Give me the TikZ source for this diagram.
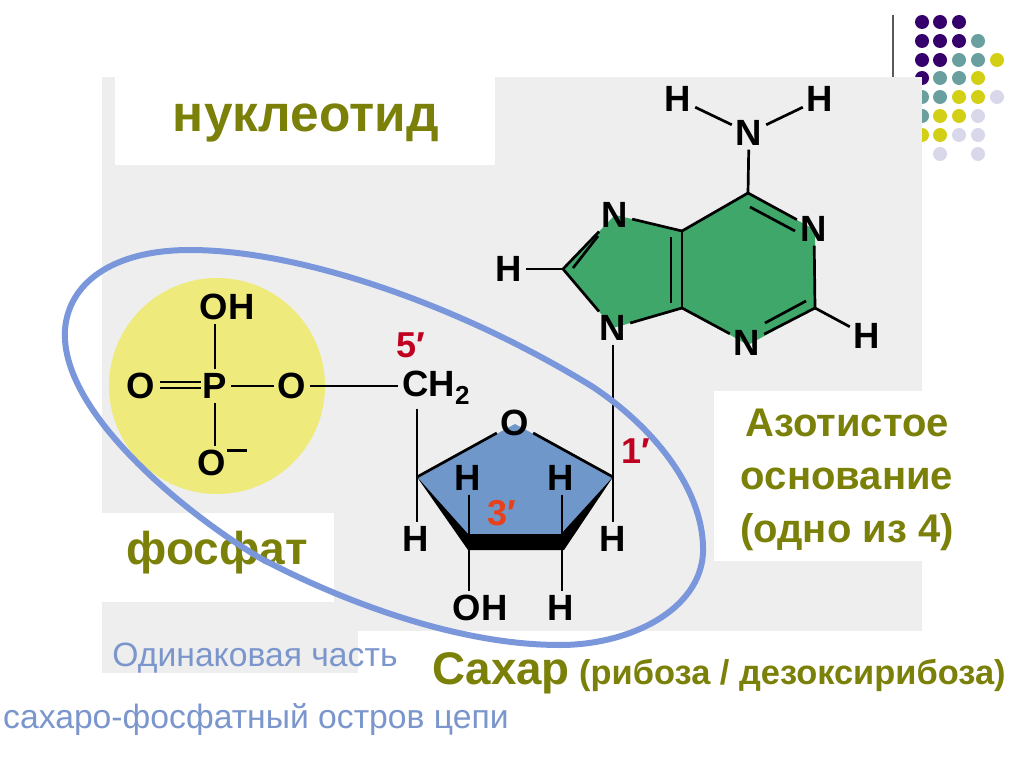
\documentclass[tikz,border=0pt]{standalone}
\usepackage{fontspec}
\setmainfont{Liberation Sans}
\definecolor{bggray}{HTML}{EEEEEE}
\definecolor{olive}{HTML}{7A8008}
\definecolor{ringblue}{HTML}{7B97DC}
\definecolor{labelblue}{HTML}{7B96CC}
\definecolor{purine}{HTML}{40A76A}
\definecolor{sugar}{HTML}{6F97C9}
\definecolor{phos}{HTML}{EEEA7C}
\definecolor{dotp}{HTML}{35006B}
\definecolor{dott}{HTML}{6A9F9F}
\definecolor{doty}{HTML}{D2CF15}
\definecolor{dotl}{HTML}{D8D8EA}
\definecolor{primered}{HTML}{C00020}
\definecolor{primeorange}{HTML}{E8401A}
\tikzset{
  atom/.style={font=\bfseries\fontsize{36.5}{36.5}\selectfont,inner sep=0pt,outer sep=4pt,text=black},
  bond/.style={line width=2.7pt,black},
  prime/.style={font=\bfseries\fontsize{36}{36}\selectfont,inner sep=0pt,text=primered},
  side/.style={font=\fontsize{33.7}{33.7}\selectfont,inner sep=0pt,text=labelblue},
  dot/.style={circle,inner sep=0pt,minimum size=14pt}
}
\begin{document}
\begin{tikzpicture}[x=1pt,y=-1pt]
\useasboundingbox (0,0) rectangle (1024,767);
\fill[white] (0,0) rectangle (1024,767);
% decoration
\draw[line width=1.2pt,gray!70!black] (893,15) -- (893,77);
\foreach \x/\y/\c in {922/22/dotp,940/22/dotp,959/22/dotp,
 922/41/dotp,940/41/dotp,959/41/dotp,978/41/dott,
 922/60/dotp,940/60/dotp,959/60/dott,978/60/dott,997/60/doty,
 922/78/dotp,940/78/dott,959/78/dott,978/78/doty,
 922/97/dott,940/97/dott,959/97/doty,978/97/doty,997/97/dotl,
 922/116/dott,940/116/doty,959/116/doty,978/116/dotl,
 922/135/doty,940/135/doty,959/135/dotl,978/135/dotl,
 940/154/dotl,978/154/dotl}
  \node[dot,fill=\c] (d\x\y) at (\x,\y) {};
% panels
\fill[bggray] (102,77) rectangle (922,631);
\fill[bggray] (102,602) rectangle (358,673);
\fill[white] (115,77) rectangle (495,165);
\fill[white] (102,513) rectangle (334,602);
\fill[white] (714,391) rectangle (922,561);
% coloured shapes
\fill[phos] (217,386) circle (108);
\fill[purine] (615,215) -- (682,231) -- (748,193) -- (815,230) -- (815,308) -- (748,345) -- (682,308) -- (613,328) -- (563,269) -- cycle;
\fill[sugar] (515,424) -- (613,477) -- (562,541) -- (469,541) -- (417,477) -- cycle;
% heads
\node[font=\bfseries\fontsize{51.4}{51.4}\selectfont,text=olive,inner sep=0pt] (title) at (306,123) {нуклеотид};
\node[font=\bfseries\fontsize{46}{46}\selectfont,text=olive,inner sep=0pt] (fosfat) at (217,553) {фосфат};
\node[font=\bfseries\fontsize{40}{53}\selectfont,text=olive,inner sep=0pt,align=center] (azot) at (847,480) {Азотистое\\основание\\(одно из 4)};
\node[font=\bfseries\fontsize{45.7}{45.7}\selectfont,text=olive,inner sep=0pt,anchor=base west] (sahar) at (432,684) {Сахар};
\node[font=\bfseries\fontsize{34.4}{34.4}\selectfont,text=olive,inner sep=0pt,anchor=base west] (rib) at (579,684) {(рибоза / дезоксирибоза)};
\node[side] (same) at (255,658) {Одинаковая часть};
\node[side,anchor=base west] (back) at (3,728) {сахаро-фосфатный остров цепи};
% base atoms
\node[atom] (h1) at (678,99) {H};
\node[atom] (h2) at (820,99) {H};
\node[atom] (n6) at (749,133) {N};
\node[atom] (n7) at (615,215) {N};
\node[atom] (n1) at (814,229) {N};
\node[atom] (h8) at (509,269) {H};
\node[atom] (n9) at (613,328) {N};
\node[atom] (n3) at (747,343) {N};
\node[atom] (h5) at (867,336) {H};
\coordinate (c8) at (563,269);
\coordinate (c4) at (682,308);
\coordinate (c5) at (682,231);
\coordinate (c6) at (748,193);
\coordinate (c2) at (815,308);
\coordinate (c1p) at (613,477);
\coordinate (d1a) at (750,207); \coordinate (d1b) at (795,231);
\coordinate (d2a) at (806,301); \coordinate (d2b) at (765,323);
\coordinate (d3a) at (671,237); \coordinate (d3b) at (671,303);
\coordinate (d4a) at (573,268); \coordinate (d4b) at (598,236);
\draw[bond] (h1) -- (n6);
\draw[bond] (h2) -- (n6);
\draw[bond] (n6) -- (c6);
\draw[bond] (c6) -- (n1);
\draw[bond] (d1a) -- (d1b);
\draw[bond] (n1) -- (c2);
\draw[bond] (c2) -- (n3);
\draw[bond] (d2a) -- (d2b);
\draw[bond] (c2) -- (h5);
\draw[bond] (n3) -- (c4);
\draw[bond] (c4) -- (c5);
\draw[bond] (d3a) -- (d3b);
\draw[bond] (c5) -- (c6);
\draw[bond] (c5) -- (n7);
\draw[bond] (c4) -- (n9);
\draw[bond] (c8) -- (n7);
\draw[bond] (d4a) -- (d4b);
\draw[bond] (c8) -- (n9);
\draw[bond] (h8) -- (c8);
\draw[bond] (n9) -- (c1p);
% phosphate
\node[atom] (oh) at (227,307) {OH};
\node[atom] (p) at (215,386) {P};
\node[atom] (o1) at (141,386) {O};
\node[atom] (o2) at (292,386) {O};
\node[atom] (om) at (212,463) {O};
\node[atom] (ch2) at (436,388) {CH\raisebox{-8pt}{\fontsize{26}{26}\selectfont 2}};
\node[prime] (p5) at (411,345) {5′};
\node[prime,text=primeorange] (p3) at (502,513) {3′};
\coordinate (dbl1a) at (160,382); \coordinate (dbl1b) at (201,382);
\coordinate (dbl2a) at (160,388); \coordinate (dbl2b) at (201,388);
\coordinate (m1) at (227,450); \coordinate (m2) at (247,450);
\draw[bond] (p) -- (p |- oh.south);
\draw[bond] (dbl1a) -- (dbl1b);
\draw[bond] (dbl2a) -- (dbl2b);
\draw[bond] (p) -- (o2);
\draw[bond] (o2) -- (o2 -| ch2.west);
\draw[bond] (p) -- (p |- om.north);
\draw[line width=3pt] (m1) -- (m2);
% sugar
\node[atom] (o4) at (515,423) {O};
\node[atom] (h4a) at (468,478) {H};
\node[atom] (h1a) at (561,478) {H};
\node[atom] (h4b) at (416,539) {H};
\node[atom] (h1b) at (613,539) {H};
\node[atom] (oh3) at (480,608) {OH};
\node[atom] (h2b) at (561,608) {H};
\coordinate (c4p) at (417,477);
\coordinate (c3p) at (469,541);
\coordinate (c2p) at (562,541);
\draw[bond] (ch2.south -| c4p) -- (c4p);
\draw[bond] (c4p) -- (o4);
\draw[bond] (o4) -- (c1p);
\draw[bond] (c4p) -- (c4p |- h4b.north);
\draw[bond] (c1p) -- (c1p |- h1b.north);
\fill (c4p) -- (468,534) -- (561,534) -- (c1p) -- (564,550) -- (468,550) -- cycle;
\draw[bond] (c3p |- h4a.south) -- (c3p);
\draw[bond] (c2p |- h1a.south) -- (c2p);
\draw[bond] (c3p) -- (c3p |- oh3.north);
\draw[bond] (c2p) -- (c2p |- h2b.north);
% ring
\draw[ringblue,line width=6pt,line join=round] (65,330)
 .. controls (68,285) and (110,250) .. (190,250)
 .. controls (300,250) and (460,305) .. (593,387)
 .. controls (660,432) and (705,495) .. (703,553)
 .. controls (700,610) and (630,645) .. (560,645)
 .. controls (450,645) and (330,595) .. (260,558)
 .. controls (180,510) and (60,410) .. (65,330) -- cycle;
\node[prime] (p1) at (636,451) {1′};
\end{tikzpicture}
\end{document}
